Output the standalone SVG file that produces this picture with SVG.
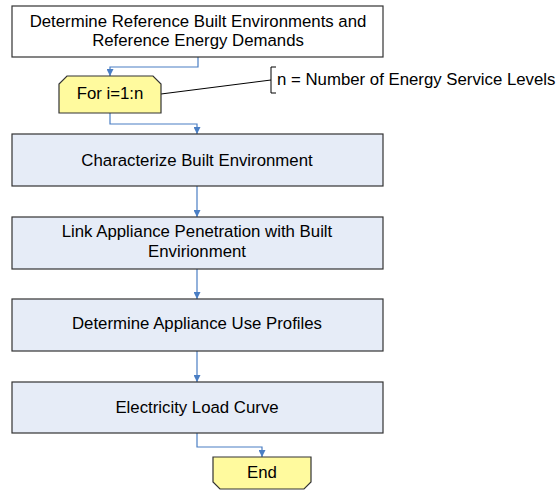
<svg xmlns="http://www.w3.org/2000/svg" width="560" height="492" viewBox="0 0 560 492">
<defs>
<marker id="ah" viewBox="0 0 10 10" refX="10" refY="5" markerWidth="7" markerHeight="7" markerUnits="userSpaceOnUse" orient="auto">
<path d="M0,0 L10,5 L0,10 z" fill="#4A7EC4"/>
</marker>
<style>
text{font-family:"Liberation Sans",Arial,sans-serif;font-size:16.8px;fill:#000;text-anchor:middle}
.box{fill:#E6ECF7;stroke:#333;stroke-width:1.2}
.wbox{fill:#fff;stroke:#333;stroke-width:1.2}
.term{fill:#FFFA9E;stroke:#333;stroke-width:1.2}
.conn{fill:none;stroke:#4A7EC4;stroke-width:1.2;marker-end:url(#ah)}
.note{fill:none;stroke:#000;stroke-width:1}
</style>
</defs>
<rect width="560" height="492" fill="#fff"/>
<g id="connectors">
<path class="conn" d="M198,57 V67 H110 V76"/>
<path class="conn" d="M110,113 V124 H197 V134"/>
<path class="conn" d="M197,186 V217"/>
<path class="conn" d="M197,269 V299"/>
<path class="conn" d="M197,351 V382"/>
<path class="conn" d="M197,433 V447 H262 V457"/>
<path class="note" d="M161,94 L271,80"/>
</g>
<g id="start">
<rect class="wbox" x="12" y="6" width="371" height="51"/>
<text x="198" y="27">Determine Reference Built Environments and</text>
<text x="198" y="46">Reference Energy Demands</text>
</g>
<g id="loop">
<path class="term" d="M67,76 H153 L161,84 V113 H59 V84 Z"/>
<text x="110" y="99">For i=1:n</text>
</g>
<g id="annotation">
<path class="note" d="M276,67 H271 V93 H276"/>
<text x="277" y="85" style="text-anchor:start">n = Number of Energy Service Levels</text>
</g>
<g id="characterize">
<rect class="box" x="12" y="134" width="371" height="52"/>
<text x="197" y="166">Characterize Built Environment</text>
</g>
<g id="link">
<rect class="box" x="12" y="217" width="371" height="52"/>
<text x="197" y="237">Link Appliance Penetration with Built</text>
<text x="197" y="257">Envirionment</text>
</g>
<g id="profiles">
<rect class="box" x="12" y="299" width="371" height="52"/>
<text x="197" y="329">Determine Appliance Use Profiles</text>
</g>
<g id="load">
<rect class="box" x="12" y="382" width="371" height="51"/>
<text x="197" y="413">Electricity Load Curve</text>
</g>
<g id="end">
<path class="term" d="M213,457 H311 V482 L304,489 H220 L213,482 Z"/>
<text x="262" y="478">End</text>
</g>
</svg>
